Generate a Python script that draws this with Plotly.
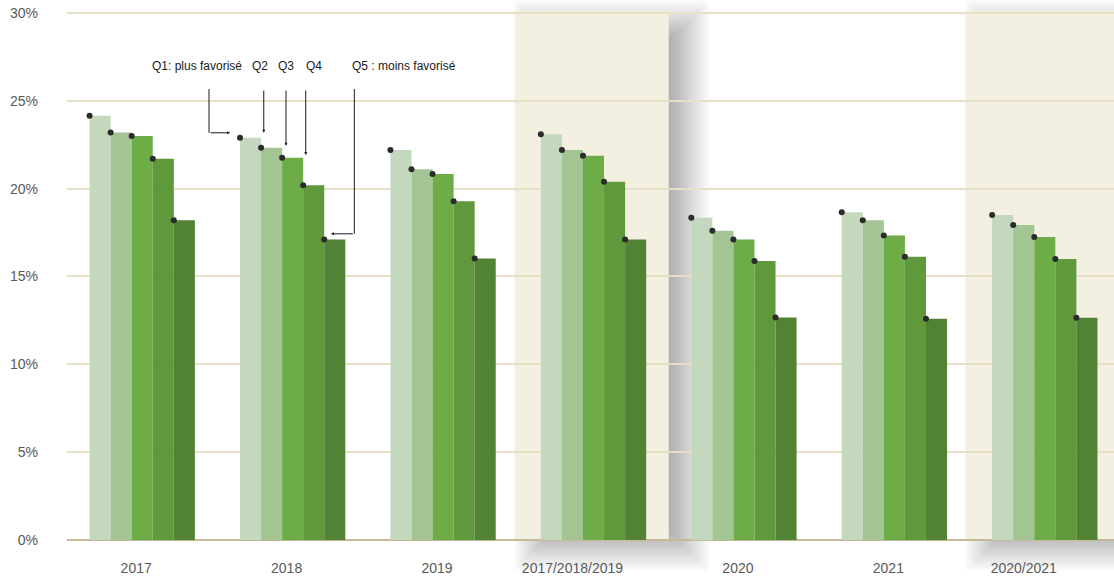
import plotly.graph_objects as go

# Share of population per quintile, by period
periods = ["2017", "2018", "2019", "2017/2018/2019", "2020", "2021", "2020/2021"]
quintiles = ["Q1", "Q2", "Q3", "Q4", "Q5"]
values = {
    "Q1": [24.15, 22.9, 22.2, 23.1, 18.35, 18.65, 18.5],
    "Q2": [23.2, 22.33, 21.1, 22.2, 17.6, 18.2, 17.93],
    "Q3": [23.0, 21.76, 20.83, 21.87, 17.1, 17.34, 17.25],
    "Q4": [21.7, 20.2, 19.28, 20.4, 15.88, 16.13, 16.0],
    "Q5": [18.2, 17.1, 16.03, 17.1, 12.67, 12.6, 12.65],
}
colors = ["#C3D8BC", "#A2C593", "#6DAC46", "#5F993C", "#528234"]
y_ticks = [0, 5, 10, 15, 20, 25, 30]
y_ticktext = ["0%", "5%", "10%", "15%", "20%", "25%", "30%"]
pooled = ["2017/2018/2019", "2020/2021"]

# Layout geometry
W, H = 1114, 583
ML, MR, MT, MB = 67, 0, 10, 43
XR = [-0.5, 6.46]
YR = [0, 30.17]
BARGAP = 0.3
n_q = len(quintiles)
bar_w = (1 - BARGAP) / n_q

xpos = list(range(len(periods)))
fig = go.Figure()

for qi, q in enumerate(quintiles):
    fig.add_trace(go.Bar(
        x=xpos, y=values[q], name=q, marker_color=colors[qi],
        marker_line_width=0, showlegend=False, hoverinfo="y",
    ))

# Value markers on the top-left corner of each bar
for qi, q in enumerate(quintiles):
    left = [i - (1 - BARGAP) / 2 + qi * bar_w for i in xpos]
    fig.add_trace(go.Scatter(
        x=left, y=values[q], mode="markers",
        marker=dict(color="#2B2B2B", size=6), showlegend=False, hoverinfo="skip",
    ))

# Helpers to convert data coordinates to paper coordinates
plot_w = W - ML - MR
plot_h = H - MT - MB


def xp(x):
    return (x - XR[0]) / (XR[1] - XR[0])


def yp(y):
    return (y - YR[0]) / (YR[1] - YR[0])


shapes = []
# Highlight panels for pooled periods with a soft drop shadow (right / below)
for lab in pooled:
    i = periods.index(lab)
    bx0, bx1 = xp(i - 0.525), xp(i + 0.5)
    by0, by1 = yp(0), yp(30.12)
    off_x, off_y, blur, n = 20, 10, 22, 22
    for k in range(n):
        e = -blur + 2 * blur * (k + 0.5) / n
        shapes.append(dict(
            type="rect", xref="paper", yref="paper", layer="below",
            x0=bx0 + (off_x - e) / plot_w, x1=bx1 + (off_x + e) / plot_w,
            y0=by0 + (-off_y - e) / plot_h, y1=by1 + (-off_y + e) / plot_h,
            fillcolor="rgba(0,0,0,0.016)", line_width=0,
        ))
    shapes.append(dict(
        type="rect", xref="paper", yref="paper", layer="below",
        x0=bx0, x1=bx1, y0=by0, y1=by1,
        fillcolor="#F3F0E2", line_width=0,
    ))

# Connector lines for the quintile legend (pointing at the 2018 bars)
line_style = dict(color="#1A1A1A", width=1)
shapes.append(dict(type="line", xref="x", yref="y", x0=0.444, x1=0.444, y0=25.67, y1=23.18,
                   line=line_style, layer="above"))
shapes.append(dict(type="line", xref="x", yref="y", x0=1.410, x1=1.410, y0=25.67, y1=17.43,
                   line=line_style, layer="above"))

annotations = []
arrows = [
    (0.584, 23.18, 0.444, 23.18),
    (0.808, 23.18, 0.808, 25.67),
    (0.956, 22.44, 0.956, 25.67),
    (1.087, 21.91, 1.087, 25.67),
    (1.255, 17.43, 1.410, 17.43),
]
for x, y, ax, ay in arrows:
    annotations.append(dict(
        x=x, y=y, ax=ax, ay=ay, xref="x", yref="y", axref="x", ayref="y",
        text="", showarrow=True, arrowhead=2, arrowsize=0.6, arrowwidth=1,
        arrowcolor="#1A1A1A",
    ))

legend_labels = [
    ("Q1: plus favorisé", 0.364),
    ("Q2", 0.780),
    ("Q3", 0.959),
    ("Q4", 1.139),
    ("Q5 : moins favorisé", 1.740),
]
for txt, x in legend_labels:
    annotations.append(dict(
        x=x, y=27.0, xref="x", yref="y", text=txt, showarrow=False,
        font=dict(family="Liberation Sans, Arial, sans-serif", size=12, color="#1A1A1A"),
    ))

tickvals = [i - (0.14 if "/" in p else 0.04) for i, p in zip(xpos, periods)]

fig.update_layout(
    width=W, height=H,
    margin=dict(l=ML, r=MR, t=MT, b=MB, pad=0),
    paper_bgcolor="white", plot_bgcolor="rgba(0,0,0,0)",
    barmode="group", bargap=BARGAP, bargroupgap=0,
    shapes=shapes, annotations=annotations,
    font=dict(family="Liberation Sans, Arial, sans-serif", size=14, color="#595959"),
    xaxis=dict(
        range=XR, tickvals=tickvals, ticktext=periods, showgrid=False,
        zeroline=False, showline=False, ticks="", ticklabelstandoff=18,
        tickfont=dict(size=14, color="#595959"),
    ),
    yaxis=dict(
        range=YR, tickvals=y_ticks, ticktext=y_ticktext,
        showgrid=True, gridcolor="#E8E0C6", gridwidth=2,
        zeroline=True, zerolinecolor="#C6B998", zerolinewidth=2,
        showline=False, ticks="", ticklabelstandoff=28,
        tickfont=dict(size=14, color="#595959"),
    ),
)

fig.write_html("out.html")
